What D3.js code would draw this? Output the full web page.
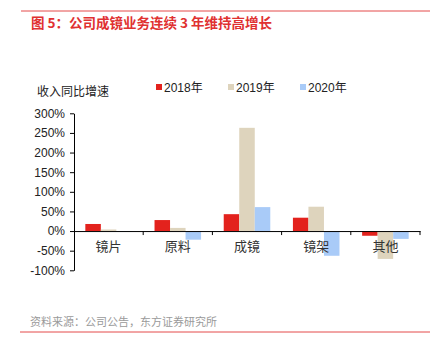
<!DOCTYPE html>
<html><head><meta charset="utf-8">
<script src="https://cdn.jsdelivr.net/npm/d3@7/dist/d3.min.js"></script>
<style>body{margin:0;background:#fff;}svg{display:block;font-family:"Liberation Sans",Arial,"Noto Sans CJK SC",sans-serif;}</style>
</head><body>
<script>
const categories = ["镜片","原料","成镜","镜架","其他"];
const seriesNames = ["2018年","2019年","2020年"];
const s2018 = [18, 28, 43, 34, -12];
const s2019 = [4, 8, 263, 62, -71];
const s2020 = [-2, -22, 61, -63, -20];
const yTicks = [-100,-50,0,50,100,150,200,250,300];
const colors = ["#e3221d","#ded4bd","#a9cbf8"];
const title = "图 5：公司成镜业务连续 3 年维持高增长";
const source = "资料来源：公司公告，东方证券研究所";
const yLabel = "收入同比增速";

const W=430,H=357;
const svg=d3.select("body").append("svg").attr("width",W).attr("height",H);
const cjk='"Noto Sans CJK SC","Liberation Sans",sans-serif';

svg.append("line").attr("x1",21).attr("x2",430).attr("y1",11).attr("y2",11).attr("stroke","#e44a4a").attr("stroke-width",1);
svg.append("text").attr("x",31).attr("y",28).attr("fill","#e03131").attr("font-size",13.5).attr("font-weight","bold").style("font-family",cjk).text(title);
svg.append("line").attr("x1",20).attr("x2",430).attr("y1",332).attr("y2",332).attr("stroke","#e44a4a").attr("stroke-width",1);
svg.append("text").attr("x",30).attr("y",326).attr("fill","#9a9a9a").attr("font-size",11).style("font-family",cjk).text(source);

const x0=d3.scaleBand().domain(categories).range([74,420]).paddingInner(0).paddingOuter(0);
const x1=d3.scaleBand().domain(seriesNames).range([0,x0.bandwidth()]).paddingInner(0).paddingOuter(0.73);
const y=d3.scaleLinear().domain([-100,300]).range([270.3,113.3]);

const data=[s2018,s2019,s2020];
const g=svg.append("g");
categories.forEach((c,i)=>{
  seriesNames.forEach((s,j)=>{
    const v=data[j][i];
    g.append("rect").attr("x",x0(c)+x1(s)).attr("width",x1.bandwidth())
     .attr("y",y(Math.max(0,v))).attr("height",Math.abs(y(v)-y(0))).attr("fill",colors[j]);
  });
});

const ya=svg.append("g").attr("transform","translate(74,0)").call(d3.axisLeft(y).tickValues(yTicks).tickFormat(d=>d+"%").tickSize(4).tickSizeOuter(0));
ya.select(".domain").attr("stroke","#000");
ya.selectAll(".tick line").attr("stroke","#000");
ya.selectAll("text").attr("font-size",12).attr("fill","#222").style("font-family",'"Liberation Sans",Arial,sans-serif').attr("x",-9);

const xa=svg.append("g").attr("transform",`translate(0,${y(0)})`).call(d3.axisBottom(x0).tickSize(0).tickSizeOuter(0));
xa.select(".domain").attr("stroke","#000");
xa.selectAll("text").attr("font-size",13).attr("fill","#333").style("font-family",cjk).attr("dy","0").attr("y",20);
const bounds=categories.map(c=>x0(c)+x0.bandwidth());
svg.append("g").selectAll("line").data(bounds).join("line").attr("x1",d=>d).attr("x2",d=>d).attr("y1",y(0)).attr("y2",y(0)+4).attr("stroke","#000");

svg.append("text").attr("x",37).attr("y",96).attr("font-size",12).attr("fill","#222").style("font-family",cjk).text(yLabel);

const lg=svg.append("g");
const lx=[156,228,300];
seriesNames.forEach((s,j)=>{
  lg.append("rect").attr("x",lx[j]).attr("y",84).attr("width",6).attr("height",6).attr("fill",colors[j]);
  lg.append("text").attr("x",lx[j]+8).attr("y",92).attr("font-size",12).attr("fill","#222").style("font-family",'"Liberation Sans","Noto Sans CJK SC",sans-serif').text(s);
});
</script>
</body></html>
